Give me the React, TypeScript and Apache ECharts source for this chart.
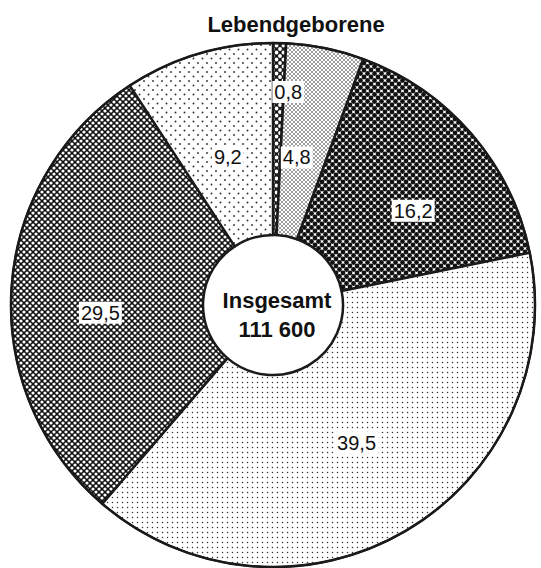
import React, { useEffect, useRef } from "react";
import * as echarts from "echarts";

const TITLE = "Lebendgeborene";
const CENTER_LINE_1 = "Insgesamt";
const CENTER_LINE_2 = "111 600";
const categories = ["A", "B", "C", "D", "E", "F"];
const shares = [0.8, 4.8, 16.2, 39.5, 29.5, 9.2];
const shareLabels = ["0,8", "4,8", "16,2", "39,5", "29,5", "9,2"];

// label nudges relative to the default inside position (layout only)
const labelNudges: [number, number][] = [
  [11, -44],
  [-10, 18],
  [12, 16],
  [-2, -8],
  [-4, 19],
  [3, 14],
];

function makePattern(bg: string, fg: string, tile: number, r: number, stagger: boolean) {
  const c = document.createElement("canvas");
  c.width = tile;
  c.height = tile;
  const ctx = c.getContext("2d")!;
  ctx.fillStyle = bg;
  ctx.fillRect(0, 0, c.width, c.height);
  ctx.fillStyle = fg;
  const pts: [number, number][] = stagger
    ? [[0, 0], [tile, 0], [0, tile], [tile, tile], [tile / 2, tile / 2]]
    : [[tile / 2, tile / 2]];
  for (const [x, y] of pts) {
    ctx.beginPath();
    ctx.arc(x, y, r, 0, Math.PI * 2);
    ctx.fill();
  }
  return { image: c, repeat: "repeat" as const };
}

export default function App() {
  const ref = useRef<HTMLDivElement>(null);
  useEffect(() => {
    document.body.style.margin = "0";
    const chart = echarts.init(ref.current!, undefined, { renderer: "svg" });
    const patterns = [
      makePattern("#1a1a1a", "#ffffff", 7, 1.9, true),
      makePattern("#ffffff", "#222222", 4, 0.8, true),
      makePattern("#ffffff", "#111111", 7, 2.4, true),
      makePattern("#ffffff", "#333333", 5, 0.75, false),
      makePattern("#111111", "#ffffff", 6, 1.6, true),
      makePattern("#ffffff", "#333333", 9, 0.95, true),
    ];
    chart.setOption({
      animation: false,
      backgroundColor: "#ffffff",
      title: {
        text: TITLE,
        left: 291,
        top: 8,
        textAlign: "center",
        textStyle: {
          fontFamily: "Liberation Sans, Arial, sans-serif",
          fontWeight: "bold",
          fontSize: 22,
          color: "#111",
        },
      },
      series: [
        {
          type: "pie",
          center: [273, 305],
          radius: [70, 262],
          startAngle: 90,
          clockwise: true,
          silent: true,
          data: categories.map((name, i) => ({
            name,
            value: shares[i],
            itemStyle: { color: patterns[i] as any },
          })),
          itemStyle: { borderColor: "#1a1a1a", borderWidth: 2.5 },
          label: {
            show: true,
            position: "inside",
            formatter: (p: any) => shareLabels[p.dataIndex],
            fontFamily: "Liberation Sans, Arial, sans-serif",
            fontSize: 20,
            color: "#111",
            backgroundColor: "#ffffff",
            padding: [1, 2],
          },
          labelLayout: (p: any) => ({
            dx: labelNudges[p.dataIndex][0],
            dy: labelNudges[p.dataIndex][1],
          }),
          labelLine: { show: false },
        },
        {
          type: "pie",
          center: [273, 305],
          radius: [261, 263],
          silent: true,
          label: { show: false },
          labelLine: { show: false },
          data: [{ name: "outline", value: 1, itemStyle: { color: "#1a1a1a" } }],
        },
      ],
      graphic: [
        {
          type: "text",
          x: 277,
          y: 300,
          style: {
            text: CENTER_LINE_1,
            fontFamily: "Liberation Sans, Arial, sans-serif",
            fontWeight: "bold",
            fontSize: 22,
            fill: "#111",
            align: "center",
            verticalAlign: "middle",
          },
        },
        {
          type: "text",
          x: 277,
          y: 329,
          style: {
            text: CENTER_LINE_2,
            fontFamily: "Liberation Sans, Arial, sans-serif",
            fontWeight: "bold",
            fontSize: 22,
            fill: "#111",
            align: "center",
            verticalAlign: "middle",
          },
        },
      ],
    });
    return () => chart.dispose();
  }, []);
  return <div ref={ref} style={{ width: 541, height: 568 }} />;
}
